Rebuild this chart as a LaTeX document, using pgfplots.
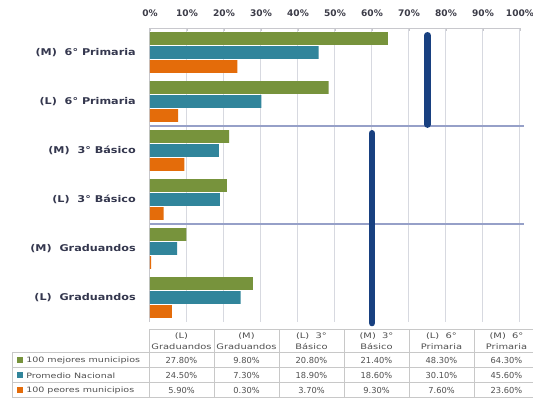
\documentclass[border=0pt]{standalone}
\usepackage{pgfplots}
\pgfplotsset{compat=1.18}
\usepackage{fontspec}
\setmainfont{DejaVu Sans}
\newfontfamily\lblfont[FakeStretch=1.2]{DejaVu Sans}
\newfontfamily\tblfont[FakeStretch=1.3]{DejaVu Sans}
\definecolor{cgreen}{RGB}{119,147,60}
\definecolor{cblue}{RGB}{49,133,155}
\definecolor{corange}{RGB}{228,108,10}
\definecolor{cnavy}{RGB}{24,64,128}
\definecolor{sepcol}{RGB}{150,160,200}
\definecolor{gridcol}{RGB}{215,217,224}
\definecolor{axiscol}{RGB}{200,200,205}
\definecolor{tickcol}{RGB}{60,60,72}
\definecolor{lblcol}{RGB}{52,55,78}
\definecolor{tcol}{RGB}{80,80,80}
\definecolor{tblcol}{RGB}{200,200,200}
\begin{document}
\begin{tikzpicture}[x=0.75pt,y=0.75pt]
\useasboundingbox (0,0) rectangle (533,400);
\fill[white] (0,0) rectangle (533,400);
\clip (0,0) rectangle (533,400);
\begin{axis}[at={(112.5pt,58.5pt)}, anchor=south west, scale only axis,
  width=277.5pt, height=220.5pt,
  xmin=0, xmax=100, ymin=-0.5, ymax=5.5,
  axis x line*=top, axis y line*=left,
  xtick pos=upper, xticklabel pos=upper, ytick pos=left,
  axis line style={axiscol, line width=0.75pt},
  xtick={0,10,...,100},
  xticklabels={0\%,10\%,20\%,30\%,40\%,50\%,60\%,70\%,80\%,90\%,100\%},
  xticklabel style={font=\bfseries\fontsize{6.8}{8}\selectfont, text=tickcol, inner sep=0pt, anchor=base, yshift=8.5pt},
  xmajorgrids, grid style={gridcol, line width=0.75pt},
  major tick length=2pt, x tick style={axiscol},
  ytick={0,1,2,3,4,5},
  yticklabels={(L)\ \ Graduandos,(M)\ \ Graduandos,(L)\ \ 3° Básico,(M)\ \ 3° Básico,(L)\ \ 6° Primaria,(M)\ \ 6° Primaria},
  y tick style={draw=none},
  yticklabel style={font=\lblfont\bfseries\fontsize{7}{8}\selectfont, text=lblcol, anchor=east, inner sep=0pt, xshift=-10.5pt},
  clip=false,
]
\addplot[xbar, bar width=9.4pt, bar shift=10.5pt, fill=cgreen, draw=none]
  coordinates {(27.8,0) (9.8,1) (20.8,2) (21.4,3) (48.3,4) (64.3,5)};
\addplot[xbar, bar width=9.4pt, bar shift=0pt, fill=cblue, draw=none]
  coordinates {(24.5,0) (7.3,1) (18.9,2) (18.6,3) (30.1,4) (45.6,5)};
\addplot[xbar, bar width=9.4pt, bar shift=-10.5pt, fill=corange, draw=none]
  coordinates {(5.9,0) (0.3,1) (3.7,2) (9.3,3) (7.6,4) (23.6,5)};
\addplot[sepcol, line width=0.8pt, mark=none] coordinates {(0,3.5) (101,3.5)};
\addplot[sepcol, line width=0.8pt, mark=none] coordinates {(0,1.5) (101,1.5)};
\addplot[cnavy, line width=5pt, line cap=round, mark=none] coordinates {(75,5.35) (75,3.53)};
\addplot[cnavy, line width=5pt, line cap=round, mark=none] coordinates {(60,3.35) (60,-0.52)};
\end{axis}
\tikzset{tbl/.style={draw=tblcol, line width=0.75pt}}
\foreach \i in {0,...,6} \draw[tbl] ({149+65*\i},70) -- ({149+65*\i},2);
\draw[tbl] (149,70) -- (539,70);
\foreach \yy in {47,32,17,2} \draw[tbl] (12,\yy) -- (539,\yy);
\draw[tbl] (12,47) -- (12,2);
\foreach \t [count=\i from 0] in {{(L)\\Graduandos},{(M)\\Graduandos},{(L)\ \ 3°\\Básico},{(M)\ \ 3°\\Básico},{(L)\ \ 6°\\Primaria},{(M)\ \ 6°\\Primaria}}
  \node[align=center, font=\tblfont\fontsize{5.7}{8.2}\selectfont, text=tcol, inner sep=0pt] at ({181.5+65*\i},59) {\t};
\foreach \v [count=\i from 0] in {27.80,9.80,20.80,21.40,48.30,64.30}
  \node[font=\fontsize{6.2}{7}\selectfont, text=tcol, inner sep=0pt] at ({181.5+65*\i},39.5) {\v\%};
\foreach \v [count=\i from 0] in {24.50,7.30,18.90,18.60,30.10,45.60}
  \node[font=\fontsize{6.2}{7}\selectfont, text=tcol, inner sep=0pt] at ({181.5+65*\i},24.5) {\v\%};
\foreach \v [count=\i from 0] in {5.90,0.30,3.70,9.30,7.60,23.60}
  \node[font=\fontsize{6.2}{7}\selectfont, text=tcol, inner sep=0pt] at ({181.5+65*\i},9.5) {\v\%};
\fill[cgreen] (17,36.5) rectangle (23,42.5);
\fill[cblue] (17,21.5) rectangle (23,27.5);
\fill[corange] (17,6.5) rectangle (23,12.5);
\node[anchor=west, font=\tblfont\fontsize{5.5}{7}\selectfont, text=tcol, inner sep=0pt] at (26,39.5) {100 mejores municipios};
\node[anchor=west, font=\tblfont\fontsize{5.5}{7}\selectfont, text=tcol, inner sep=0pt] at (26,24.5) {Promedio Nacional};
\node[anchor=west, font=\tblfont\fontsize{5.5}{7}\selectfont, text=tcol, inner sep=0pt] at (26,9.5) {100 peores municipios};
\end{tikzpicture}
\end{document}
